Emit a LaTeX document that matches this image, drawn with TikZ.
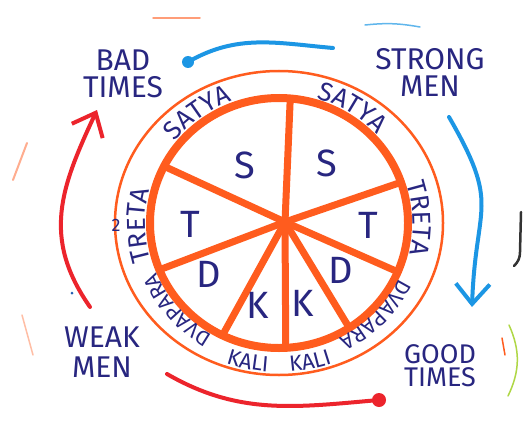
\documentclass[tikz,border=0pt]{standalone}
\usepackage{fontspec}
\setmainfont{Fira Sans}
\usetikzlibrary{arrows.meta,positioning,calc,decorations.text}
\definecolor{ink}{RGB}{40,38,128}
\definecolor{wheel}{RGB}{255,92,30}
\definecolor{skyblue}{RGB}{28,150,228}
\definecolor{marker}{RGB}{236,36,44}
\definecolor{lime}{RGB}{175,215,70}
\newcommand\ringbig{\color{ink}\fontsize{26}{26}\selectfont}
\newcommand\ringsmall{\color{ink}\fontsize{21}{21}\selectfont}
\newcommand\ringkali{\color{ink}\fontsize{22}{22}\selectfont}

\begin{document}
\begin{tikzpicture}[x=1pt,y=1pt,line cap=round,
    lbl/.style={text=ink,align=center,font=\fontsize{30}{27}\selectfont},
    yuga/.style={text=ink,font=\fontsize{38}{38}\selectfont},
    spoke/.style={draw=wheel,line width=7pt},
    flow/.style={line width=4pt},
    barb/.style={-{Straight Barb[length=20pt,width=34pt]}},
    along/.style={decorate,decoration={text along path,text align=center,text={#1}}}]
  \useasboundingbox[fill=white] (0,0) rectangle (524,424);
  \coordinate (ring) at (279,201);
  \coordinate (hub) at (285,202);
  % wheel
  \draw[wheel,line width=2.5pt] (ring) ellipse[x radius=164,y radius=152];
  \foreach \a in {85,19,153,202,244,273,303,337}
    \draw[spoke] (hub) -- ([shift={(\a:129 and 125)}]ring);
  \draw[wheel,line width=8pt] (ring) ellipse[x radius=129,y radius=125];
  \foreach \x/\y/\t [count=\i] in {245/259/S,327/261/S,190/200/T,368/199/T,209/150/D,341/154/D,258/119/K,303/121/K}
    \node[yuga] (yuga\i) at (\x,\y) {\t};
  % ring names
  \path[along={|\ringbig|SATYA}] ([shift={(166:134 and 130)}]ring) arc[start angle=166,end angle=86,x radius=134,y radius=130];
  \path[along={|\ringbig|SATYA}] ([shift={(98:134 and 130)}]ring) arc[start angle=98,end angle=18,x radius=134,y radius=130];
  \path[along={|\ringbig|TRETA}] ([shift={(221:134 and 130)}]ring) arc[start angle=221,end angle=141,x radius=134,y radius=130];
  \path[along={|\ringbig|TRETA}] ([shift={(42:134 and 130)}]ring) arc[start angle=42,end angle=-38,x radius=134,y radius=130];
  \path[along={|\ringsmall|DVAPARA}] ([shift={(261:133 and 129)}]ring) arc[start angle=261,end angle=181,x radius=133,y radius=129];
  \path[along={|\ringsmall|DVAPARA}] ([shift={(356:133 and 129)}]ring) arc[start angle=356,end angle=276,x radius=133,y radius=129];
  \path[along={|\ringkali|KALI}] ([shift={(228:158 and 149)}]ring) arc[start angle=228,end angle=288,x radius=158,y radius=149];
  \path[along={|\ringkali|KALI}] ([shift={(252:158 and 149)}]ring) arc[start angle=252,end angle=312,x radius=158,y radius=149];
  % cycle
  \node[lbl] (bad) at (123,350) {BAD\\TIMES};
  \node[lbl] (strong) at (430,352) {STRONG\\MEN};
  \node[lbl,font=\fontsize{27}{23}\selectfont] (good) at (440,58) {GOOD\\TIMES};
  \node[lbl,font=\fontsize{30}{30}\selectfont] (weak) at (102,72) {WEAK\\MEN};
  \coordinate (bt) at (188,362);
  \coordinate (sm) at (333,376);
  \coordinate (sm2) at (449,307);
  \coordinate (gt) at (472,117);
  \coordinate (gt2) at (379,24);
  \coordinate (wm) at (167,50);
  \coordinate (wm2) at (90,117);
  \coordinate (bt2) at (97,314);
  \draw[flow,skyblue] (bt) to[out=30,in=175] (sm);
  \fill[skyblue] (bt) circle[radius=6];
  \draw[flow,skyblue,barb] (sm2) to[out=-60,in=88,looseness=1.4] (gt);
  \draw[flow,marker] (gt2) to[out=185,in=-30] (wm);
  \fill[marker] (gt2) circle[radius=7];
  \draw[flow,marker,barb] (wm2) to[out=125,in=-115,looseness=1.1] (bt2);
  % stray marks
  \node[text=ink,font=\fontsize{18}{18}\selectfont] (two) at (116,199) {2};
  \draw[wheel!60,line width=1.5pt] (153,406) -- (200,406);
  \draw[skyblue!70,line width=1.5pt] (365,399) to[bend left=8] (420,397);
  \draw[wheel!50,line width=2pt] (27,281) -- (13,244);
  \draw[wheel!40,line width=1.5pt] (22,109) -- (33,69);
  \draw[lime,line width=1.5pt] (509,99) to[bend left=25] (508,28);
  \draw[wheel,line width=1.5pt] (502,86) -- (505,69);
  \draw[black!80,line width=2.5pt] (521,212) -- (520,172) to[out=-90,in=45] (514,158);
  \fill[skyblue!50!ink] (72,131) circle[radius=1.5];
\end{tikzpicture}
\end{document}
